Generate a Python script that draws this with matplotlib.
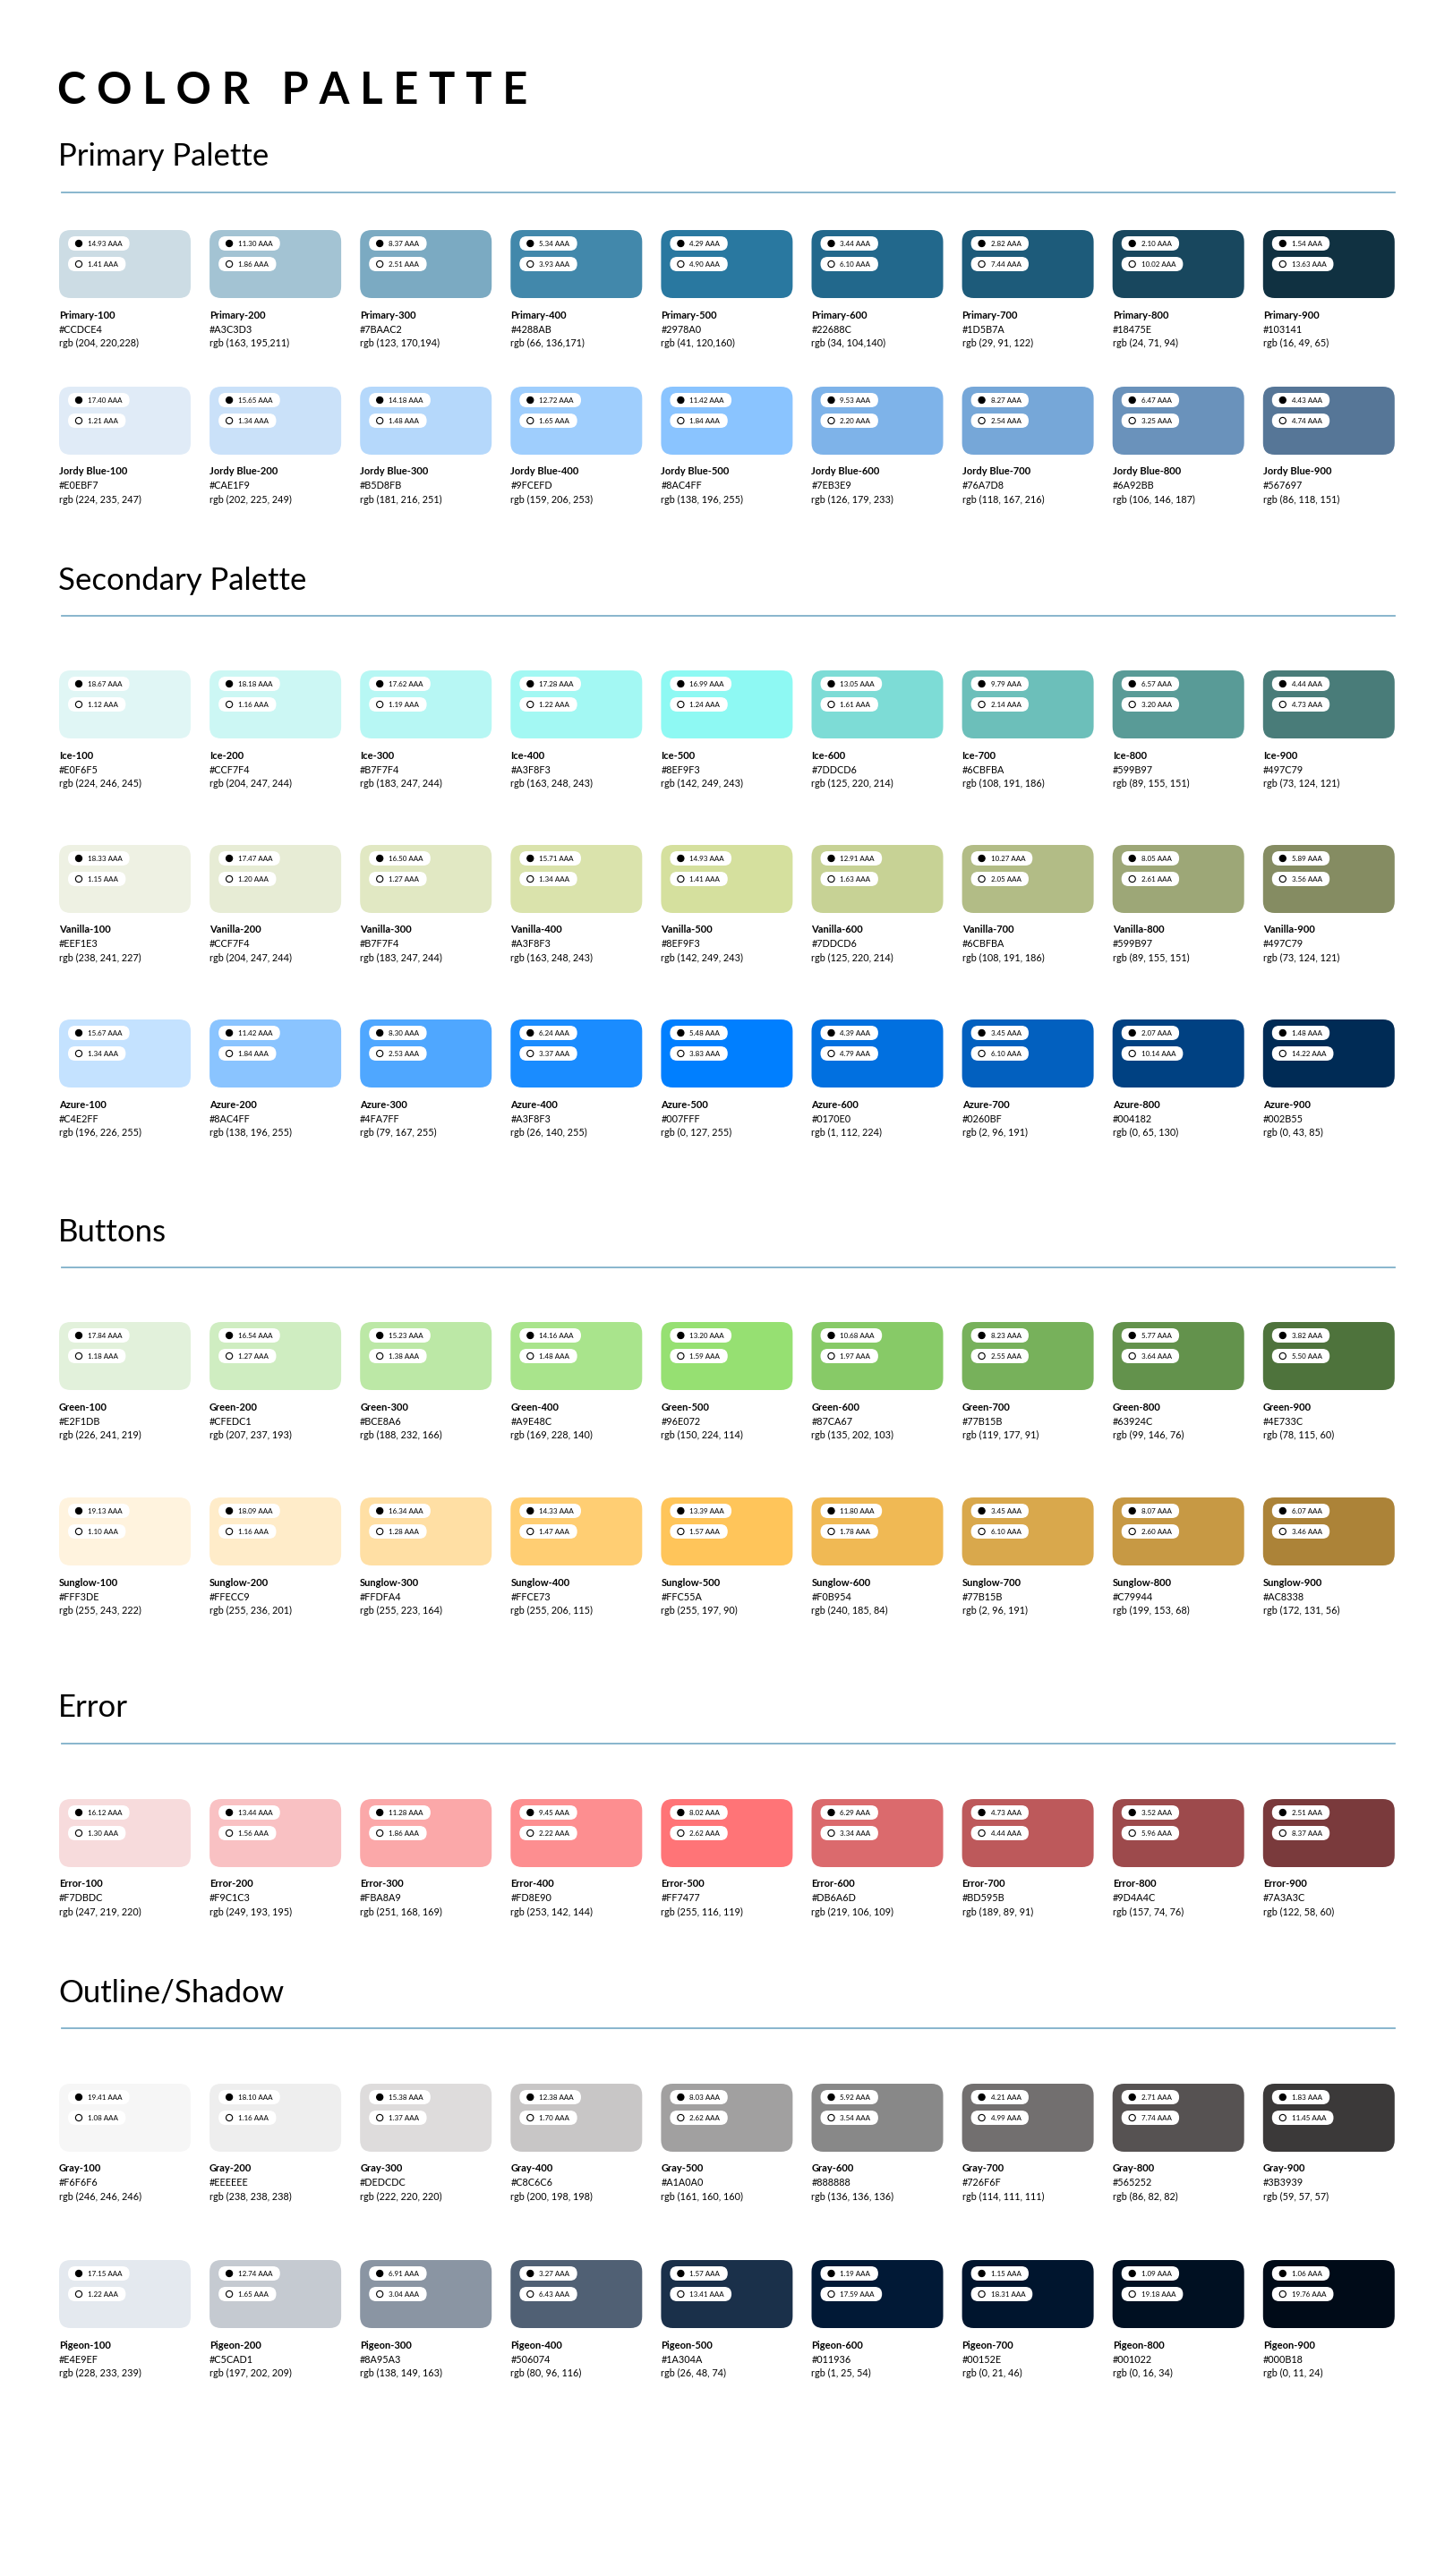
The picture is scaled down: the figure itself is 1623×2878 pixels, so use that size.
import matplotlib
matplotlib.use("Agg")
import matplotlib.pyplot as plt
from matplotlib.patches import FancyBboxPatch, Circle

# ---- data ----
LEVELS = ["100", "200", "300", "400", "500", "600", "700", "800", "900"]

primary_hex = ["CCDCE4", "A3C3D3", "7BAAC2", "4288AB", "2978A0", "22688C", "1D5B7A", "18475E", "103141"]
primary_rgb = ["204, 220,228", "163, 195,211", "123, 170,194", "66, 136,171", "41, 120,160",
               "34, 104,140", "29, 91, 122", "24, 71, 94", "16, 49, 65"]
primary_on_black = ["14.93", "11.30", "8.37", "5.34", "4.29", "3.44", "2.82", "2.10", "1.54"]
primary_on_white = ["1.41", "1.86", "2.51", "3.93", "4.90", "6.10", "7.44", "10.02", "13.63"]

jordy_hex = ["E0EBF7", "CAE1F9", "B5D8FB", "9FCEFD", "8AC4FF", "7EB3E9", "76A7D8", "6A92BB", "567697"]
jordy_rgb = ["224, 235, 247", "202, 225, 249", "181, 216, 251", "159, 206, 253", "138, 196, 255",
             "126, 179, 233", "118, 167, 216", "106, 146, 187", "86, 118, 151"]
jordy_on_black = ["17.40", "15.65", "14.18", "12.72", "11.42", "9.53", "8.27", "6.47", "4.43"]
jordy_on_white = ["1.21", "1.34", "1.48", "1.65", "1.84", "2.20", "2.54", "3.25", "4.74"]

ice_hex = ["E0F6F5", "CCF7F4", "B7F7F4", "A3F8F3", "8EF9F3", "7DDCD6", "6CBFBA", "599B97", "497C79"]
ice_rgb = ["224, 246, 245", "204, 247, 244", "183, 247, 244", "163, 248, 243", "142, 249, 243",
           "125, 220, 214", "108, 191, 186", "89, 155, 151", "73, 124, 121"]
ice_on_black = ["18.67", "18.18", "17.62", "17.28", "16.99", "13.05", "9.79", "6.57", "4.44"]
ice_on_white = ["1.12", "1.16", "1.19", "1.22", "1.24", "1.61", "2.14", "3.20", "4.73"]

vanilla_hex = ["EEF1E3", "CCF7F4", "B7F7F4", "A3F8F3", "8EF9F3", "7DDCD6", "6CBFBA", "599B97", "497C79"]
vanilla_rgb = ["238, 241, 227", "204, 247, 244", "183, 247, 244", "163, 248, 243", "142, 249, 243",
               "125, 220, 214", "108, 191, 186", "89, 155, 151", "73, 124, 121"]
vanilla_on_black = ["18.33", "17.47", "16.50", "15.71", "14.93", "12.91", "10.27", "8.05", "5.89"]
vanilla_on_white = ["1.15", "1.20", "1.27", "1.34", "1.41", "1.63", "2.05", "2.61", "3.56"]
# the swatches themselves are not the labelled colours
vanilla_fill = ["#EEF1E3", "#E7ECD5", "#E1E8C3", "#DAE3AC", "#D5E09E", "#C7D295", "#B2BC86", "#9DA777", "#858C62"]

azure_hex = ["C4E2FF", "8AC4FF", "4FA7FF", "A3F8F3", "007FFF", "0170E0", "0260BF", "004182", "002B55"]
azure_rgb = ["196, 226, 255", "138, 196, 255", "79, 167, 255", "26, 140, 255", "0, 127, 255",
             "1, 112, 224", "2, 96, 191", "0, 65, 130", "0, 43, 85"]
azure_on_black = ["15.67", "11.42", "8.30", "6.24", "5.48", "4.39", "3.45", "2.07", "1.48"]
azure_on_white = ["1.34", "1.84", "2.53", "3.37", "3.83", "4.79", "6.10", "10.14", "14.22"]
azure_fill = ["#C4E2FF", "#8AC4FF", "#4FA7FF", "#1A8CFF", "#007FFF", "#0170E0", "#0260BF", "#004182", "#002B55"]

green_hex = ["E2F1DB", "CFEDC1", "BCE8A6", "A9E48C", "96E072", "87CA67", "77B15B", "63924C", "4E733C"]
green_rgb = ["226, 241, 219", "207, 237, 193", "188, 232, 166", "169, 228, 140", "150, 224, 114",
             "135, 202, 103", "119, 177, 91", "99, 146, 76", "78, 115, 60"]
green_on_black = ["17.84", "16.54", "15.23", "14.16", "13.20", "10.68", "8.23", "5.77", "3.82"]
green_on_white = ["1.18", "1.27", "1.38", "1.48", "1.59", "1.97", "2.55", "3.64", "5.50"]

sunglow_hex = ["FFF3DE", "FFECC9", "FFDFA4", "FFCE73", "FFC55A", "F0B954", "77B15B", "C79944", "AC8338"]
sunglow_rgb = ["255, 243, 222", "255, 236, 201", "255, 223, 164", "255, 206, 115", "255, 197, 90",
               "240, 185, 84", "2, 96, 191", "199, 153, 68", "172, 131, 56"]
sunglow_on_black = ["19.13", "18.09", "16.34", "14.33", "13.39", "11.80", "3.45", "8.07", "6.07"]
sunglow_on_white = ["1.10", "1.16", "1.28", "1.47", "1.57", "1.78", "6.10", "2.60", "3.46"]
sunglow_fill = ["#FFF3DE", "#FFECC9", "#FFDFA4", "#FFCE73", "#FFC55A", "#F0B954", "#D9A84C", "#C79944", "#AC8338"]

error_hex = ["F7DBDC", "F9C1C3", "FBA8A9", "FD8E90", "FF7477", "DB6A6D", "BD595B", "9D4A4C", "7A3A3C"]
error_rgb = ["247, 219, 220", "249, 193, 195", "251, 168, 169", "253, 142, 144", "255, 116, 119",
             "219, 106, 109", "189, 89, 91", "157, 74, 76", "122, 58, 60"]
error_on_black = ["16.12", "13.44", "11.28", "9.45", "8.02", "6.29", "4.73", "3.52", "2.51"]
error_on_white = ["1.30", "1.56", "1.86", "2.22", "2.62", "3.34", "4.44", "5.96", "8.37"]

gray_hex = ["F6F6F6", "EEEEEE", "DEDCDC", "C8C6C6", "A1A0A0", "888888", "726F6F", "565252", "3B3939"]
gray_rgb = ["246, 246, 246", "238, 238, 238", "222, 220, 220", "200, 198, 198", "161, 160, 160",
            "136, 136, 136", "114, 111, 111", "86, 82, 82", "59, 57, 57"]
gray_on_black = ["19.41", "18.10", "15.38", "12.38", "8.03", "5.92", "4.21", "2.71", "1.83"]
gray_on_white = ["1.08", "1.16", "1.37", "1.70", "2.62", "3.54", "4.99", "7.74", "11.45"]

pigeon_hex = ["E4E9EF", "C5CAD1", "8A95A3", "506074", "1A304A", "011936", "00152E", "001022", "000B18"]
pigeon_rgb = ["228, 233, 239", "197, 202, 209", "138, 149, 163", "80, 96, 116", "26, 48, 74",
              "1, 25, 54", "0, 21, 46", "0, 16, 34", "0, 11, 24"]
pigeon_on_black = ["17.15", "12.74", "6.91", "3.27", "1.57", "1.19", "1.15", "1.09", "1.06"]
pigeon_on_white = ["1.22", "1.65", "3.04", "6.43", "13.41", "17.59", "18.31", "19.18", "19.76"]

# (family, hex, rgb, on black, on white, fill override, swatch top y)
ROWS = [
    ("Primary", primary_hex, primary_rgb, primary_on_black, primary_on_white, None, 257),
    ("Jordy Blue", jordy_hex, jordy_rgb, jordy_on_black, jordy_on_white, None, 432),
    ("Ice", ice_hex, ice_rgb, ice_on_black, ice_on_white, None, 749),
    ("Vanilla", vanilla_hex, vanilla_rgb, vanilla_on_black, vanilla_on_white, vanilla_fill, 944),
    ("Azure", azure_hex, azure_rgb, azure_on_black, azure_on_white, azure_fill, 1139),
    ("Green", green_hex, green_rgb, green_on_black, green_on_white, None, 1477),
    ("Sunglow", sunglow_hex, sunglow_rgb, sunglow_on_black, sunglow_on_white, sunglow_fill, 1673),
    ("Error", error_hex, error_rgb, error_on_black, error_on_white, None, 2010),
    ("Gray", gray_hex, gray_rgb, gray_on_black, gray_on_white, None, 2328),
    ("Pigeon", pigeon_hex, pigeon_rgb, pigeon_on_black, pigeon_on_white, None, 2525),
]

SECTIONS = [("Primary Palette", 175, 215), ("Secondary Palette", 649, 688),
            ("Buttons", 1377, 1416), ("Error", 1908, 1948), ("Outline/Shadow", 2227, 2266)]

W, H = 1624, 2878
X0, PITCH, SW, SH = 66, 168.1, 147, 76
FONT = "Lato"
LINE = "#7FB0C9"

fig = plt.figure(figsize=(W / 100, H / 100), dpi=100)
ax = fig.add_axes([0, 0, 1, 1])
ax.set_xlim(0, W)
ax.set_ylim(H, 0)
ax.axis("off")

ax.text(X0 - 2, 101, "C O L O R   P A L E T T E", fontsize=35, fontweight="bold",
        family=FONT, va="center", ha="left", color="black")

for title, ty, ly in SECTIONS:
    ax.text(X0 - 1, ty, title, fontsize=25, family=FONT, va="center", ha="left", color="black")
    ax.plot([69, 1558], [ly, ly], color=LINE, lw=1.3)


def pill(x, y, txt, filled):
    w = 30 + 4.3 * len(txt)
    ax.add_patch(FancyBboxPatch((x, y), w, 16, boxstyle="round,pad=0,rounding_size=8",
                                fc="white", ec="none", zorder=3))
    ax.add_patch(Circle((x + 12, y + 8), 3.6, fc="black" if filled else "white",
                        ec="black", lw=0.8, zorder=4))
    ax.text(x + 22, y + 8.5, txt, fontsize=5.8, family=FONT, va="center", ha="left",
            color="black", zorder=5)


for family, hexes, rgbs, onb, onw, fills, top in ROWS:
    for i, lvl in enumerate(LEVELS):
        x = X0 + i * PITCH
        fc = fills[i] if fills else "#" + hexes[i]
        ax.add_patch(FancyBboxPatch((x, top), SW, SH, boxstyle="round,pad=0,rounding_size=13",
                                    fc=fc, ec="none", zorder=2))
        pill(x + 10, top + 7, onb[i] + " AAA", True)
        pill(x + 10, top + 30, onw[i] + " AAA", False)
        ax.text(x, top + SH + 19, f"{family}-{lvl}", fontsize=8, fontweight="bold",
                family=FONT, va="center", ha="left")
        ax.text(x, top + SH + 35, "#" + hexes[i], fontsize=7.8, family=FONT, va="center", ha="left")
        ax.text(x, top + SH + 50, f"rgb ({rgbs[i]})", fontsize=7.8, family=FONT, va="center", ha="left")

fig.savefig("out.png", dpi=100, facecolor="white")
